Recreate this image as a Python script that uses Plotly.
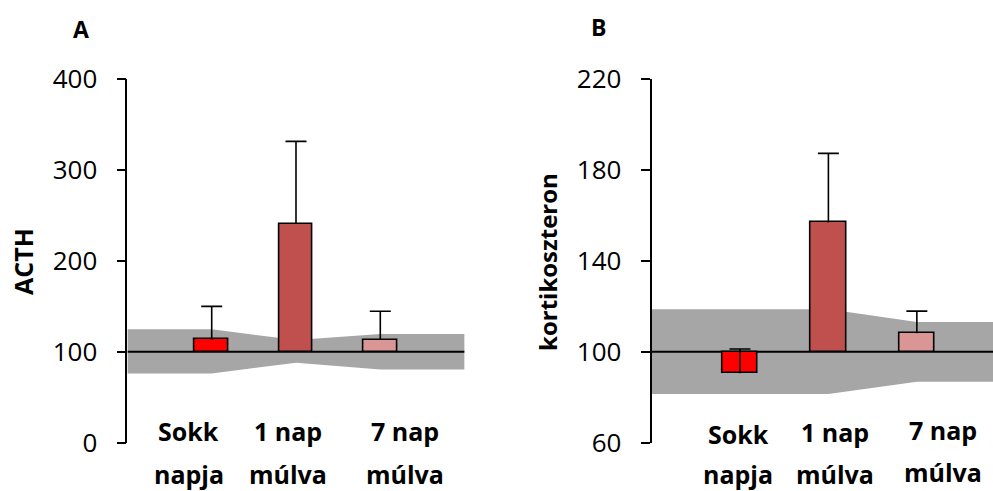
import plotly.graph_objects as go

# Category labels (two lines each) and positions on the category scale
categories = [["Sokk", "napja"], ["1 nap", "múlva"], ["7 nap", "múlva"]]
bar_pos = [1, 2, 3]
band_pos = [0, 1, 2, 3, 4]
reference = 100

# Panel A: ACTH (% of control)
acth_mean = [113.6, 240.4, 112.9]
acth_sem = [36.3, 91.0, 31.6]
acth_band_hi = [124.7, 124.7, 113.0, 119.5, 119.5]
acth_band_lo = [76.2, 76.2, 87.9, 80.6, 80.6]

# Panel B: kortikoszteron (% of control)
cort_mean = [90.5, 156.9, 108.1]
cort_sem = [10.7, 30.4, 9.8]
cort_band_hi = [118.7, 118.7, 118.7, 113.1, 113.1]
cort_band_lo = [81.4, 81.4, 81.4, 86.8, 86.8]

bar_colors = ["#FF0000", "#C0504D", "#D99694"]
band_color = "#A6A6A6"

W, H = 993, 491
FONT = "Open Sans"

fig = go.Figure()
shapes = []


def add_panel(xa, ya, mean, sem, hi, lo):
    # grey control range, drawn underneath the bars
    pts = [(x, v) for x, v in zip(band_pos, lo)] + \
          [(x, v) for x, v in zip(reversed(band_pos), reversed(hi))]
    path = "M " + " L ".join(f"{x},{v}" for x, v in pts) + " Z"
    shapes.append(dict(type="path", path=path, xref=xa, yref=ya, layer="below",
                       fillcolor=band_color, line=dict(width=0)))
    # horizontal axis crossing at 100
    shapes.append(dict(type="line", x0=band_pos[0], x1=band_pos[-1], y0=reference,
                       y1=reference, xref=xa, yref=ya, layer="below",
                       line=dict(color="black", width=1.8)))
    # bars growing from 100
    fig.add_trace(go.Bar(x=bar_pos, y=[m - reference for m in mean], base=reference,
                         width=0.40, marker=dict(color=bar_colors,
                                                 line=dict(color="black", width=1.6)),
                         showlegend=False, xaxis=xa, yaxis=ya))
    # upward SEM error stems (no cap at the mean)
    fig.add_trace(go.Scatter(x=bar_pos, y=mean, mode="markers",
                             marker=dict(size=1, opacity=0),
                             error_y=dict(type="data", array=sem, arrayminus=[0] * len(sem),
                                          symmetric=False, color="black",
                                          thickness=1.6, width=0),
                             showlegend=False, xaxis=xa, yaxis=ya))
    # cap at the top of each error bar
    fig.add_trace(go.Scatter(x=bar_pos, y=[m + s for m, s in zip(mean, sem)],
                             mode="markers",
                             marker=dict(symbol="line-ew", size=15,
                                         line=dict(color="black", width=1.6)),
                             showlegend=False, xaxis=xa, yaxis=ya))


add_panel("x", "y", acth_mean, acth_sem, acth_band_hi, acth_band_lo)
add_panel("x2", "y2", cort_mean, cort_sem, cort_band_hi, cort_band_lo)

y_dom = [1 - 442.7 / H, 1 - 79 / H]
yaxis_common = dict(
    domain=y_dom, showgrid=False, zeroline=False, showline=True,
    linecolor="black", linewidth=1.8, ticks="outside", ticklen=9,
    tickwidth=1.8, tickcolor="black", ticklabelstandoff=14,
    tickfont=dict(family=FONT, size=26, color="black"),
)

fig.update_layout(
    width=W, height=H, autosize=False,
    margin=dict(l=0, r=0, t=0, b=0, autoexpand=False),
    plot_bgcolor="white", paper_bgcolor="white",
    bargap=0,
    xaxis=dict(domain=[127.4 / W, 464.6 / W], range=[0, 4], visible=False),
    yaxis=dict(range=[0, 400], dtick=100, tick0=0, anchor="x", **yaxis_common),
    xaxis2=dict(domain=[651.5 / W, 1.0], range=[0, (W - 651.5) / 88.45], visible=False),
    yaxis2=dict(range=[60, 220], dtick=40, tick0=60, anchor="x2", **yaxis_common),
    shapes=shapes,
)

# category labels (placed per panel, one annotation per line)
label_x = {"x": [0.73, 1.905, 3.29], "x2": [0.98, 2.07, 3.29]}
label_y = {"x": [[431, 474], [431, 474], [431, 474]],
           "x2": [[434, 474], [432, 474], [430, 472]]}
annotations = []
for xr in ("x", "x2"):
    for lines, lx, ly in zip(categories, label_x[xr], label_y[xr]):
        for txt, py in zip(lines, ly):
            annotations.append(dict(
                x=lx, y=1 - py / H, xref=xr, yref="paper", text=f"<b>{txt}</b>",
                showarrow=False, xanchor="center", yanchor="middle",
                font=dict(family=FONT, size=25, color="black")))

# axis titles and panel letters
annotations += [
    dict(x=23 / W, y=1 - 262 / H, xref="paper", yref="paper", text="<b>ACTH</b>",
         textangle=-90, showarrow=False, xanchor="center", yanchor="middle",
         font=dict(family=FONT, size=25, color="black")),
    dict(x=547 / W, y=1 - 262 / H, xref="paper", yref="paper",
         text="<b>kortikoszteron</b>", textangle=-90, showarrow=False,
         xanchor="center", yanchor="middle",
         font=dict(family=FONT, size=24, color="black")),
    dict(x=81 / W, y=1 - 29 / H, xref="paper", yref="paper", text="<b>A</b>",
         showarrow=False, xanchor="center", yanchor="middle",
         font=dict(family=FONT, size=23, color="black")),
    dict(x=598.5 / W, y=1 - 26.5 / H, xref="paper", yref="paper", text="<b>B</b>",
         showarrow=False, xanchor="center", yanchor="middle",
         font=dict(family=FONT, size=23, color="black")),
]
fig.update_layout(annotations=annotations)

fig.write_html("out.html")
